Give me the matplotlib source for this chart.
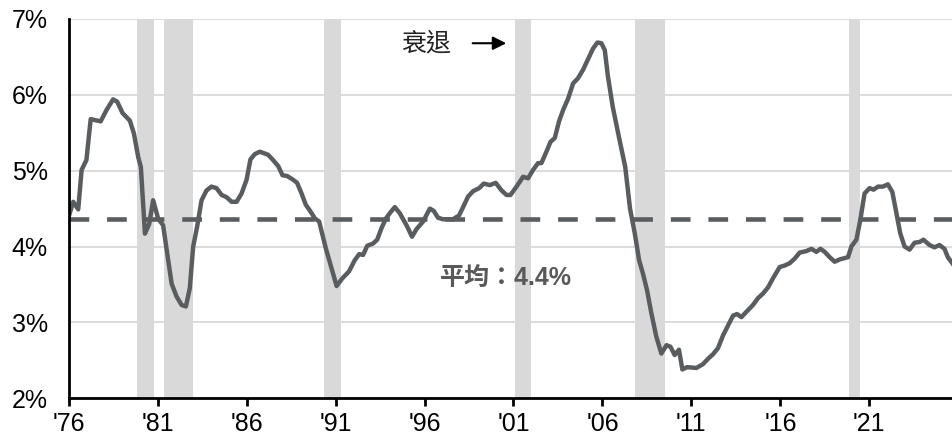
import matplotlib
matplotlib.use("Agg")
from matplotlib import pyplot as plt

plt.rcParams['font.family'] = ['Liberation Sans', 'Noto Sans CJK TC', 'DejaVu Sans']

# unemployment-style series (year, %)
years = [1976.0, 1976.26, 1976.54, 1976.73, 1977.0, 1977.24, 1977.8, 1978.13, 1978.5, 1978.73,
         1979.03, 1979.44, 1979.67, 1979.91, 1980.06, 1980.29, 1980.53, 1980.75, 1981.03, 1981.31,
         1981.79, 1982.07, 1982.35, 1982.59, 1982.81, 1983.0, 1983.22, 1983.47, 1983.75, 1984.03,
         1984.31, 1984.6, 1984.88, 1985.16, 1985.44, 1985.72, 1986.0, 1986.22, 1986.47, 1986.75,
         1987.21, 1987.49, 1987.78, 1988.02, 1988.28, 1988.62, 1988.84, 1989.09, 1989.33, 1989.6,
         1989.84, 1990.08, 1990.45, 1991.06, 1991.38, 1991.75, 1992.08, 1992.33, 1992.55, 1992.78,
         1993.11, 1993.34, 1993.58, 1993.83, 1994.05, 1994.33, 1994.61, 1994.99, 1995.3, 1995.55,
         1995.92, 1996.3, 1996.52, 1996.76, 1997.04, 1997.6, 1997.94, 1998.17, 1998.45, 1998.73,
         1999.07, 1999.33, 1999.67, 2000.0, 2000.33, 2000.61, 2000.83, 2001.17, 2001.54, 2001.82,
         2002.1, 2002.38, 2002.57, 2002.85, 2003.08, 2003.32, 2003.56, 2003.79, 2004.07, 2004.35,
         2004.63, 2004.91, 2005.19, 2005.47, 2005.72, 2005.94, 2006.13, 2006.31, 2006.58, 2006.93,
         2007.28, 2007.55, 2007.82, 2008.06, 2008.28, 2008.51, 2008.75, 2009.03, 2009.31, 2009.6,
         2009.82, 2010.06, 2010.3, 2010.49, 2010.75, 2011.28, 2011.65, 2011.93, 2012.21, 2012.49,
         2012.78, 2013.06, 2013.34, 2013.56, 2013.81, 2014.09, 2014.46, 2014.74, 2015.02, 2015.3,
         2015.58, 2015.96, 2016.24, 2016.52, 2016.8, 2017.08, 2017.46, 2017.74, 2018.02, 2018.25,
         2018.49, 2018.77, 2019.05, 2019.33, 2019.8, 2019.99, 2020.27, 2020.49, 2020.73, 2021.01,
         2021.24, 2021.48, 2021.76, 2022.04, 2022.29, 2022.52, 2022.74, 2022.98, 2023.26, 2023.54,
         2023.82, 2024.04, 2024.38, 2024.66, 2024.94, 2025.22, 2025.41, 2025.66]
values = [4.39, 4.59, 4.49, 5.01, 5.14, 5.68, 5.65, 5.80, 5.94, 5.91,
          5.76, 5.66, 5.49, 5.18, 5.05, 4.17, 4.30, 4.61, 4.37, 4.28,
          3.51, 3.34, 3.23, 3.21, 3.45, 4.00, 4.26, 4.61, 4.74, 4.79,
          4.77, 4.68, 4.65, 4.59, 4.59, 4.70, 4.88, 5.15, 5.22, 5.25,
          5.21, 5.14, 5.06, 4.94, 4.93, 4.88, 4.84, 4.70, 4.55, 4.46,
          4.37, 4.33, 3.98, 3.48, 3.58, 3.67, 3.82, 3.90, 3.89, 4.01,
          4.04, 4.09, 4.24, 4.37, 4.44, 4.52, 4.44, 4.28, 4.13, 4.23,
          4.33, 4.50, 4.47, 4.38, 4.36, 4.36, 4.41, 4.52, 4.66, 4.73,
          4.77, 4.83, 4.81, 4.84, 4.74, 4.68, 4.68, 4.79, 4.92, 4.90,
          5.01, 5.10, 5.10, 5.25, 5.38, 5.43, 5.65, 5.80, 5.95, 6.15,
          6.22, 6.33, 6.47, 6.61, 6.69, 6.68, 6.59, 6.24, 5.84, 5.44,
          5.05, 4.50, 4.17, 3.82, 3.64, 3.42, 3.12, 2.81, 2.59, 2.70,
          2.68, 2.57, 2.64, 2.38, 2.41, 2.40, 2.45, 2.52, 2.58, 2.66,
          2.83, 2.96, 3.09, 3.11, 3.07, 3.14, 3.23, 3.32, 3.38, 3.46,
          3.58, 3.73, 3.75, 3.78, 3.84, 3.92, 3.94, 3.97, 3.93, 3.97,
          3.93, 3.86, 3.80, 3.83, 3.86, 4.00, 4.09, 4.35, 4.70, 4.77,
          4.75, 4.79, 4.79, 4.82, 4.72, 4.44, 4.17, 4.00, 3.96, 4.05,
          4.06, 4.09, 4.02, 3.99, 4.02, 3.97, 3.86, 3.78]

avg = 4.36
recessions = [(1979.84, 1980.78), (1981.34, 1983.0), (1990.33, 1991.28),
              (2001.07, 2002.01), (2007.83, 2009.5), (2019.84, 2020.49)]
tick_years = [1976, 1981, 1986, 1991, 1996, 2001, 2006, 2011, 2016, 2021]
tick_labels = ["'76", "'81", "'86", "'91", "'96", "'01", "'06", "'11", "'16", "'21"]

fig = plt.figure(figsize=(9.53, 4.37), dpi=100)
ax = fig.add_axes([0.072, 0.0886, 0.928, 0.868])

for a, b in recessions:
    ax.axvspan(a, b, color='#d9d9d9', lw=0, zorder=1)

ax.plot(years, values, color='#5a5d60', lw=3.2, zorder=3, solid_joinstyle='round')
ax.axhline(avg, color='#5a5d60', lw=3.3, linestyle=(0, (4.3, 3.9)), zorder=2)

ax.text(1996.85, 3.58, '平均：4.4%', color='#595959', fontsize=18, fontweight='bold',
        ha='left', va='center', zorder=4)
ax.text(1994.7, 6.68, '衰退', color='#222222', fontsize=18, ha='left', va='center',
        family=['Noto Sans CJK TC'])
ax.annotate('', xy=(2000.75, 6.68), xytext=(1998.55, 6.68),
            arrowprops=dict(arrowstyle='-|>', color='black', lw=1.5, mutation_scale=20))

ax.set_xlim(1976, 2025.7)
ax.set_ylim(2, 7)
ax.set_yticks([2, 3, 4, 5, 6, 7])
ax.set_yticklabels(['2%', '3%', '4%', '5%', '6%', '7%'])
ax.set_xticks(tick_years)
ax.set_xticklabels(tick_labels)
ax.grid(axis='y', color='#d9d9d9', lw=1.3, zorder=0)
ax.set_axisbelow(True)

for s in ['top', 'right']:
    ax.spines[s].set_visible(False)
ax.spines['left'].set_linewidth(2)
ax.spines['bottom'].set_linewidth(2)
ax.spines['left'].set_zorder(5)
ax.spines['bottom'].set_zorder(5)
ax.tick_params(axis='y', length=0, labelsize=18, pad=15)
ax.tick_params(axis='x', length=6, width=2, labelsize=18, pad=4)

plt.savefig('out.png', dpi=100)
